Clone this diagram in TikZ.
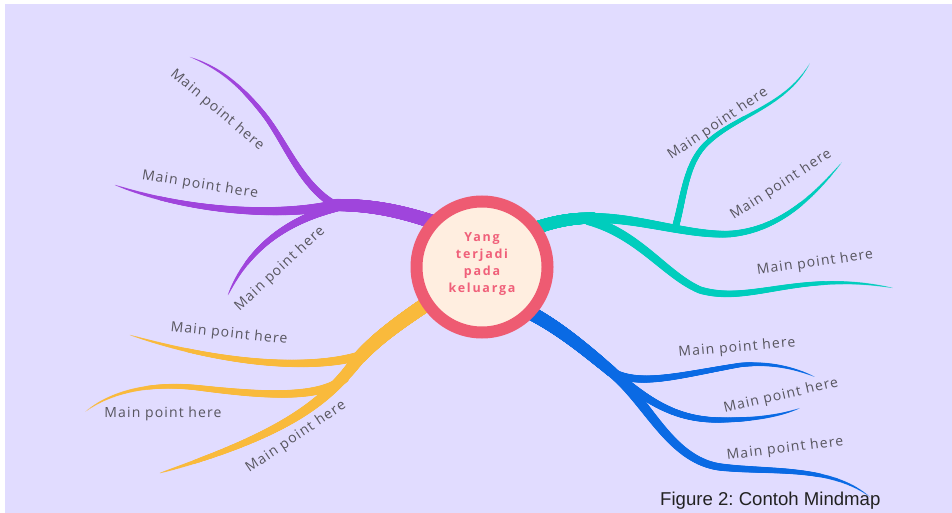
\documentclass[tikz,border=0pt]{standalone}
\usepackage{fontspec}
\setmainfont{Open Sans}
\newfontfamily\lblfont[LetterSpace=8]{Open Sans}
\newfontfamily\ctrfont[LetterSpace=14]{Open Sans}
\newfontfamily\capfont{Liberation Sans}
\usetikzlibrary{decorations.markings}
\definecolor{bg}{HTML}{E1DCFF}
\definecolor{ring}{HTML}{EE5B72}
\definecolor{inner}{HTML}{FFEEE0}
\definecolor{ctrtext}{HTML}{F0607A}
\definecolor{pur}{HTML}{9F45DC}
\definecolor{teal}{HTML}{00CDBD}
\definecolor{yel}{HTML}{F9BA3C}
\definecolor{blu}{HTML}{0A6AE4}
\definecolor{lblc}{HTML}{58565F}
\definecolor{capc}{HTML}{222222}
\tikzset{
  brush/.style n args={4}{
    decoration={markings,
      mark=between positions 0 and 1 step 0.003 with {
        \pgfmathsetmacro\brT{min(1,(\pgfkeysvalueof{/pgf/decoration/mark info/sequence number}-1)*0.003)}
        \pgfmathsetmacro\brR{0.5*(#3+(#2-#3)*(max(0.0001,1-\brT))^#4)}
        \fill[#1] (0,0) circle[radius=\brR pt];
      }},
    decorate},
  lbl/.style={font=\lblfont\fontsize{14}{16}\selectfont, text=lblc, inner sep=0pt}
}
\frenchspacing
\begin{document}
\begin{tikzpicture}[x=1pt,y=-1pt]
\useasboundingbox (0,0) rectangle (952,513);
\fill[white] (0,0) rectangle (952,513);
\fill[bg] (5,4) rectangle (952,513);

% coordinates
\coordinate (pS) at (445,226);
\coordinate (pf) at (335,205);
\coordinate (p1e) at (190,57);
\coordinate (p2e) at (115,185);
\coordinate (p3e) at (228,295);
\coordinate (tS) at (525,232);
\coordinate (tf) at (595,218);
\coordinate (tb) at (676,225);
\coordinate (t1e) at (810,63);
\coordinate (t2e) at (842,162);
\coordinate (t3e) at (893,288);
\coordinate (yS) at (440,295);
\coordinate (yf) at (360,357);
\coordinate (y1e) at (130,335);
\coordinate (y2e) at (85,412);
\coordinate (y3e) at (160,473);
\coordinate (bS) at (525,310);
\coordinate (bf) at (612,372);
\coordinate (b1e) at (815,377);
\coordinate (b2e) at (800,408);
\coordinate (b3e) at (870,497);

% purple
\path[brush={pur}{14}{12}{1}] (pS) .. controls (400,210) and (370,205) .. (pf);
\path[brush={pur}{8}{0}{0.6}] (pf) .. controls (300,185) and (285,140) .. (262,112) .. controls (240,85) and (220,68) .. (p1e);
\path[brush={pur}{10}{0}{0.6}] (pf) .. controls (280,217) and (190,212) .. (p2e);
\path[brush={pur}{9}{0}{0.6}] (337,207) .. controls (290,220) and (250,245) .. (p3e);

% teal
\path[brush={teal}{13}{11}{1}] (tS) .. controls (550,222) and (570,218) .. (tf);
\path[brush={teal}{10}{0}{0.6}] (tf) .. controls (640,218) and (690,236) .. (730,234) .. controls (780,230) and (815,195) .. (t2e);
\path[brush={teal}{7}{0}{0.6}] (tb) .. controls (684,195) and (686,165) .. (705,145) .. controls (735,115) and (785,108) .. (t1e);
\path[brush={teal}{10}{0}{0.6}] (588,220) .. controls (640,235) and (665,275) .. (700,290) .. controls (750,305) and (800,270) .. (t3e);

% yellow
\path[brush={yel}{15}{13}{1}] (yS) .. controls (410,315) and (380,335) .. (yf);
\path[brush={yel}{9}{0}{0.6}] (362,355) .. controls (330,366) and (250,372) .. (y1e);
\path[brush={yel}{9}{0}{0.6}] (345,378) .. controls (320,400) and (260,395) .. (200,388) .. controls (150,382) and (110,392) .. (y2e);
\path[brush={yel}{12}{0}{0.6}] (yf) .. controls (330,395) and (300,430) .. (y3e);

% blue
\path[brush={blu}{14}{11}{1}] (bS) .. controls (555,325) and (580,345) .. (bf);
\path[brush={blu}{8}{0}{0.6}] (bf) .. controls (640,387) and (680,375) .. (740,365) .. controls (770,362) and (795,368) .. (b1e);
\path[brush={blu}{9}{0}{0.6}] (bf) .. controls (645,398) and (672,420) .. (720,420) .. controls (760,420) and (785,414) .. (b2e);
\path[brush={blu}{11}{0}{0.6}] (bf) .. controls (648,402) and (670,460) .. (720,467) .. controls (770,473) and (830,465) .. (b3e);

% centre
\node[circle, draw=ring, line width=12pt, fill=inner, minimum size=131pt, inner sep=0pt] (c) at (482,267) {};
\node[align=center, text=ctrtext, font=\ctrfont\bfseries\fontsize{12.5}{17}\selectfont, inner sep=0pt] (ct) at (482,264) {Yang\\terjadi\\pada\\keluarga};

% labels
\node[lbl, rotate=-40] (lp1) at (217,110) {Main point here};
\node[lbl, rotate=-9] (lp2) at (200,185) {Main point here};
\node[lbl, rotate=43] (lp3) at (280,269) {Main point here};
\node[lbl, rotate=34] (lt1) at (718,124) {Main point here};
\node[lbl, rotate=33] (lt2) at (781,185) {Main point here};
\node[lbl, rotate=8] (lt3) at (815,263) {Main point here};
\node[lbl, rotate=-6] (ly1) at (229,334) {Main point here};
\node[lbl, rotate=0] (ly2) at (163,414) {Main point here};
\node[lbl, rotate=34] (ly3) at (296,437) {Main point here};
\node[lbl, rotate=5] (lb1) at (737,348) {Main point here};
\node[lbl, rotate=13] (lb2) at (781,396) {Main point here};
\node[lbl, rotate=7] (lb3) at (785,449) {Main point here};

% caption
\node[anchor=base west, font=\capfont\fontsize{18.6}{20}\selectfont, text=capc, inner sep=0pt] (cap) at (660,505) {Figure 2: Contoh Mindmap};
\end{tikzpicture}
\end{document}
